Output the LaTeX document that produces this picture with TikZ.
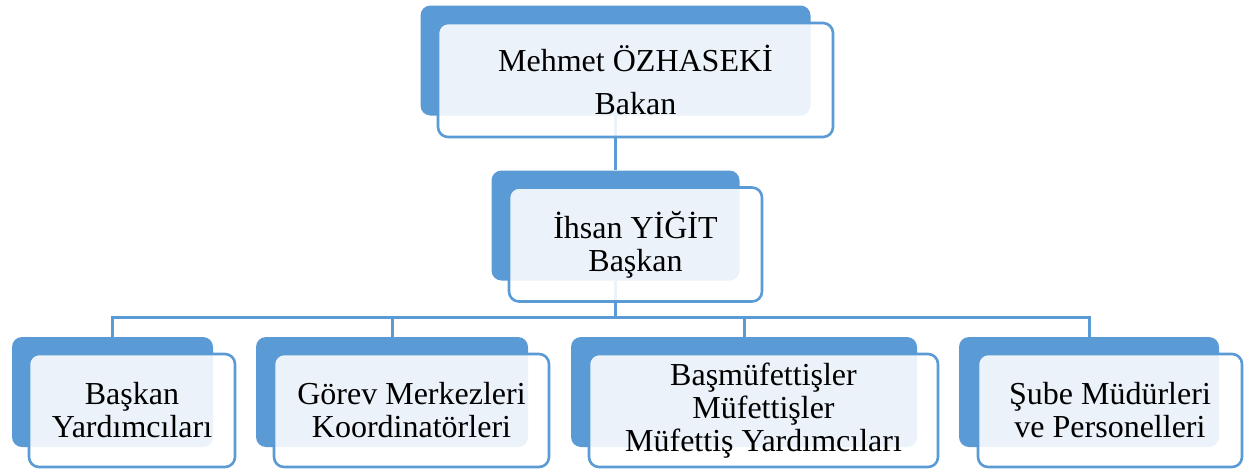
\documentclass[tikz,border=0pt]{standalone}
\usepackage{fontspec}
\setmainfont{Liberation Serif}
\usetikzlibrary{positioning, calc}
\definecolor{orgblue}{HTML}{5B9BD5}

\begin{document}
\begin{tikzpicture}[
    x=0.5pt, y=-0.5pt,
    back/.style={rectangle, rounded corners=5pt, fill=orgblue, inner sep=0pt,
                 minimum height=55pt},
    front/.style={rectangle, rounded corners=5pt, draw=orgblue, line width=1.3pt,
                  fill=white, fill opacity=0.88, text opacity=1, align=center,
                  inner sep=0pt, minimum height=57pt,
                  font=\fontsize{16}{16.5}\selectfont},
    link/.style={draw=orgblue, line width=1.5pt}
]
\useasboundingbox (0,0) rectangle (1246,468);
% back boxes
\node[back, minimum width=195pt] (bakan) at (615.5,60.5) {};
\node[back, minimum width=124pt] (baskan) at (615.5,225.5) {};
\node[back, minimum width=100.5pt] (yard) at (112.5,392) {};
\node[back, minimum width=136pt] (gorev) at (392,392) {};
\node[back, minimum width=173pt] (mufet) at (744,392) {};
\node[back, minimum width=130pt] (sube) at (1089,392) {};
% connectors
\coordinate (bus) at ($(baskan.south)+(0,37)$);
\draw[link] (bakan.south) -- (baskan.north);
\draw[link] (baskan.south) -- (bus);
\foreach \n in {yard,gorev,mufet,sube} {
    \draw[link] (bus) -| (\n.north);
}
% front boxes
\node[front, minimum width=197.5pt] (bakanF) at (635.5,80) {Mehmet ÖZHASEKİ\\[5pt]Bakan};
\node[front, minimum width=126.5pt] (baskanF) at (635.5,244.5) {İhsan YİĞİT\\Başkan};
\node[front, minimum width=103pt, minimum height=56.5pt] (yardF) at (132,410.5) {Başkan\\Yardımcıları};
\node[front, minimum width=137.5pt, minimum height=56.5pt] (gorevF) at (411.5,410.5) {Görev Merkezleri\\Koordinatörleri};
\node[front, minimum width=174.5pt, minimum height=56.5pt] (mufetF) at (763.5,410.5) {Başmüfettişler\\Müfettişler\\Müfettiş Yardımcıları};
\node[front, minimum width=132pt, minimum height=56.5pt] (subeF) at (1110,410.5) {Şube Müdürleri\\ve Personelleri};
\end{tikzpicture}
\end{document}
